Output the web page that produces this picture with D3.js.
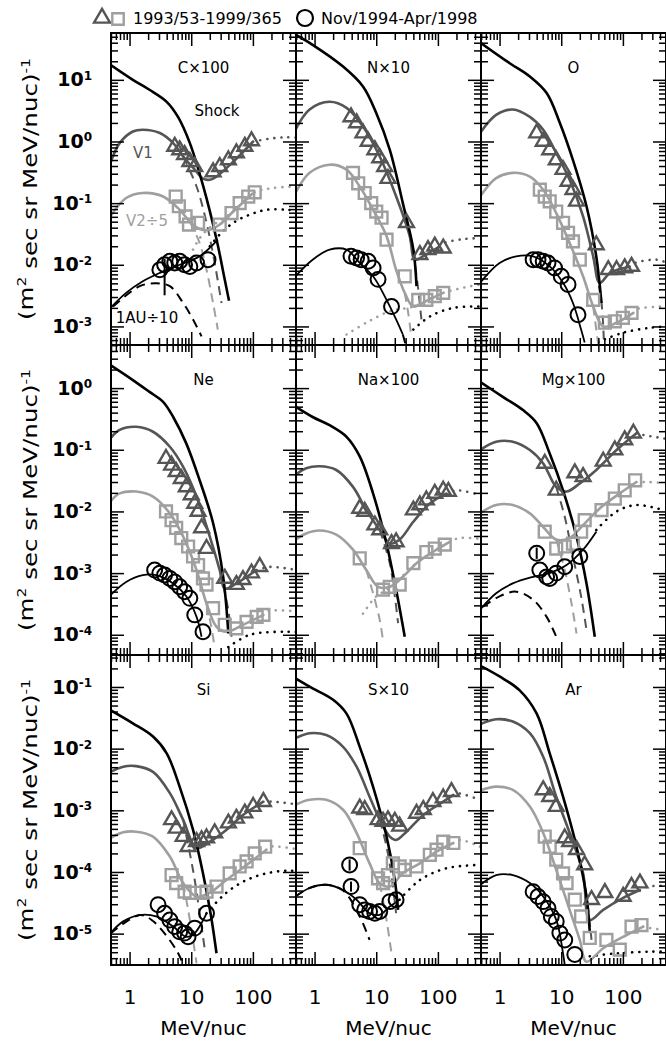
<!DOCTYPE html>
<html>
<head>
<meta charset="utf-8">
<script src="https://cdn.jsdelivr.net/npm/d3@7"></script>
<style>
  body { margin: 0; background: #fff; }
  svg { display: block; font-family: "DejaVu Sans", sans-serif; }
</style>
</head>
<body>
<svg id="chart" width="666" height="1044"></svg>
<script>
// panel order: row by row, left to right
const panels = ["C×100", "N×10", "O", "Ne", "Na×100", "Mg×100", "Si", "S×10", "Ar"];
const legendLabels = ["1993/53-1999/365", "Nov/1994-Apr/1998"];
const curveLabels = ["Shock", "V1", "V2÷5", "1AU÷10"];
const xDomain = [0.5, 500];
const xLabels = [1, 10, 100];
const yDomains = [[5.0e-4, 57.5], [4.7e-5, 5.0], [3.1e-6, 0.33]];
const yLabels = [[10, 1, 0.1, 0.01, 0.001], [1, 0.1, 0.01, 0.001, 1e-4], [0.1, 0.01, 0.001, 1e-4, 1e-5]];

// [MeV/nuc, flux] per panel
const shockCurves = [
  [[0.49,17.5],[1.13,10],[2.1,6.9],[4.0,4.4],[6.1,2.5],[9.5,0.94],[15.6,0.19],[25.7,0.026],[35,0.0057],[41,0.0026]],
  [[0.49,54],[0.93,37],[2.9,16.4],[6.1,7.8],[10,2.9],[16.6,0.73],[27,0.10],[40,0.0176],[45,0.0045]],
  [[0.49,40],[1.46,18.6],[3.1,11.3],[5.8,6.1],[9.5,2.0],[15.5,0.50],[25.7,0.089],[37,0.0137],[45,0.0024]],
  [[0.49,2.36],[1.13,1.35],[2.1,0.87],[3.5,0.60],[5.1,0.34],[8.3,0.127],[13.7,0.032],[22.6,0.0065],[33,8.7e-4],[40,1.05e-4]],
  [[0.49,0.50],[0.93,0.34],[1.75,0.25],[3.3,0.162],[5.4,0.078],[8.9,0.0195],[14.7,0.003],[21,5.4e-4],[29,9.3e-5]],
  [[0.49,1.25],[1.13,0.72],[2.4,0.44],[4.0,0.27],[6.5,0.087],[10.7,0.022],[17.7,0.0039],[25.7,6.8e-4],[35,9.3e-5]],
  [[0.49,0.042],[1.13,0.0257],[2.4,0.0157],[4.0,0.0084],[6.5,0.0024],[10.7,4.8e-4],[15.5,9.5e-5],[21,1.9e-5],[25.7,4.8e-6]],
  [[0.49,0.138],[0.93,0.095],[2.0,0.062],[3.3,0.037],[5.4,0.0107],[8.9,0.0024],[14.7,3.75e-4],[20,7.4e-5],[22.6,2.43e-5]],
  [[0.49,0.22],[1.0,0.148],[2.1,0.089],[4.0,0.037],[6.5,0.0084],[10.7,0.00166],[17.7,2.57e-4],[25.7,4.0e-5],[29,1.07e-5]]
];
const v1Curves = [
  [[0.49,0.45],[0.69,0.94],[1.13,1.45],[1.64,1.55],[3.1,1.37],[5.1,0.94],[7.4,0.57],[11.4,0.35],[15.5,0.25],[20,0.24],[25.7,0.27],[48,0.47],[101,1.0]],
  [[0.49,1.55],[0.83,3.3],[1.75,4.4],[3.3,3.5],[6.1,1.75],[11.4,0.57],[21,0.129],[35,0.029],[42,0.0121],[58,0.0138],[107,0.020]],
  [[0.49,1.4],[0.88,2.7],[1.64,3.3],[3.1,2.5],[5.1,1.55],[8.3,0.65],[13.7,0.24],[22.6,0.061],[33,0.0137],[42,0.0051],[62,0.0074],[129,0.0093]],
  [[0.49,0.153],[0.69,0.21],[1.28,0.236],[2.4,0.196],[4.5,0.112],[7.4,0.053],[12.2,0.0174],[20,0.0039],[29,0.00112],[35,5.6e-4],[54,6.8e-4],[115,0.00112]],
  [[0.49,0.039],[0.73,0.050],[1.2,0.054],[2.25,0.047],[4.2,0.025],[6.9,0.0105],[11.4,0.005],[16.6,0.003],[24,0.0035],[40,0.0068],[74,0.0135],[138,0.0195]],
  [[0.49,0.1],[0.88,0.135],[1.64,0.135],[3.1,0.099],[5.1,0.060],[8.3,0.025],[12.2,0.021],[20,0.0285],[37,0.047],[79,0.099],[166,0.185]],
  [[0.49,0.0042],[0.79,0.0051],[1.28,0.0052],[2.4,0.0042],[4.5,0.0019],[7.4,7.0e-4],[12.2,2.45e-4],[20,3.1e-4],[37,4.8e-4],[69,8.4e-4],[148,0.00138]],
  [[0.49,0.0148],[0.83,0.0178],[1.55,0.0166],[2.9,0.0107],[4.8,0.0051],[7.8,0.00166],[11.4,7.0e-4],[16.6,3.75e-4],[21,3.3e-4],[31,4.5e-4],[58,8.4e-4],[122,0.00138],[178,0.00178]],
  [[0.49,0.025],[0.88,0.030],[1.64,0.0275],[3.1,0.0178],[5.1,0.0074],[8.3,0.00166],[13.7,4.3e-4],[22.6,9.5e-5],[29,1.67e-5],[48,2.43e-5],[101,3.8e-5],[189,5.1e-5]]
];
const v1DashCurves = [
  [[7.4,0.57],[12.2,0.186],[17.7,0.048],[24,0.0107],[31,0.0024]],
  [[35,0.029],[42,0.0107],[48,0.004],[54,0.0013]],
  [[33,0.0137],[45,0.0024],[49,6.2e-4]],
  [[29,0.00112],[40,2.5e-4],[45,9.3e-5]],
  [[11.4,0.005],[16.6,0.00145],[20,4.2e-4],[22.6,1.55e-4]],
  [[8.3,0.025],[11.4,0.0082],[15.5,0.00186],[21,4.2e-4],[25.7,1.2e-4]],
  [[7.4,7.0e-4],[9.5,2.0e-4],[11.4,7.4e-5],[13.7,2.14e-5],[16.6,5.5e-6]],
  [[11.4,7.0e-4],[14.7,2.57e-4],[17.7,8.5e-5],[21,2.14e-5]],
  [[22.6,9.5e-5],[27,2.75e-5],[31,7.9e-6]]
];
const v1DotCurves = [
  [[101,1.0],[200,1.12],[355,1.17],[575,1.15]],
  [[107,0.020],[122,0.0224],[250,0.026],[480,0.027]],
  [[129,0.0093],[158,0.0107],[355,0.0121],[520,0.0107]],
  [[115,0.00112],[190,0.00126],[520,0.00112]],
  [[138,0.0195],[200,0.022],[480,0.0185]],
  [[166,0.185],[214,0.174],[520,0.150]],
  [[148,0.00138],[214,0.00138],[575,0.00123]],
  [[178,0.00178],[200,0.0019],[480,0.00148]],
  [[189,5.1e-5],[260,5.8e-5],[520,6.0e-5]]
];
const v2Curves = [
  [[0.49,0.061],[0.88,0.121],[1.64,0.146],[3.5,0.128],[6.5,0.078],[9.5,0.050],[13.7,0.038],[20,0.037],[29,0.045],[48,0.073],[101,0.146]],
  [[0.49,0.146],[0.83,0.31],[1.75,0.42],[3.3,0.35],[5.4,0.186],[8.9,0.078],[14.7,0.029],[21,0.0083],[29,0.0035],[40,0.0021],[65,0.0026],[122,0.0035]],
  [[0.49,0.13],[0.88,0.255],[1.64,0.31],[3.1,0.27],[5.1,0.165],[8.3,0.069],[13.7,0.0225],[22.6,0.0065],[33,0.0021],[48,0.001],[79,0.00115],[148,0.00166]],
  [[0.49,0.0145],[0.69,0.0196],[1.28,0.021],[2.4,0.0174],[4.5,0.0093],[7.4,0.0039],[12.2,0.00112],[17.7,3.2e-4],[25.7,1.35e-4],[37,1.12e-4],[69,1.45e-4],[148,2.1e-4]],
  [[0.49,0.0035],[0.73,0.0044],[1.2,0.0049],[2.25,0.0042],[4.2,0.0024],[6.9,0.00112],[10.7,6.0e-4],[16.6,6.0e-4],[27,8.7e-4],[45,0.00145],[83,0.0022],[155,0.0032]],
  [[0.49,0.0095],[0.88,0.0127],[1.64,0.0127],[3.1,0.0093],[5.1,0.0056],[8.3,0.0035],[13.7,0.0037],[22.6,0.006],[42,0.0112],[89,0.0196],[166,0.030]],
  [[0.49,3.55e-4],[0.79,4.4e-4],[1.28,4.5e-4],[2.4,3.75e-4],[4.5,1.78e-4],[7.4,6.6e-5],[12.2,4.0e-5],[20,4.6e-5],[37,7.4e-5],[79,1.3e-4],[166,2.3e-4]],
  [[0.49,0.00123],[0.83,0.00148],[1.55,0.00148],[2.9,0.00102],[4.8,4.3e-4],[7.8,1.38e-4],[11.4,6.6e-5],[16.6,5.8e-5],[27,9.5e-5],[51,1.38e-4],[95,2.14e-4],[178,2.95e-4]],
  [[0.49,0.0021],[0.88,0.00242],[1.64,0.00214],[3.1,0.00115],[5.1,4.3e-4],[8.3,1.08e-4],[13.7,2.43e-5],[20,7.9e-6],[25.7,3.5e-6],[48,5.8e-6],[115,9.5e-6],[214,1.3e-5]]
];
const v2DashCurves = [
  [[9.5,0.050],[13.7,0.0225],[17.7,0.0083],[22.6,0.0024],[27,8.9e-4]],
  [[29,0.0035],[33,0.00166],[37,6.9e-4]],
  [[33,0.0021],[37,8.9e-4],[40,5.0e-4]],
  [[17.7,3.2e-4],[21,1.4e-4],[24,6.3e-5]],
  [[6.9,0.00112],[8.9,4.7e-4],[11.4,1.74e-4],[12.9,8.0e-5]],
  [[8.3,0.0035],[11.4,0.00112],[14.7,3.2e-4],[17.7,1.05e-4]],
  [[7.4,6.6e-5],[8.9,2.45e-5],[10.7,7.9e-6],[12.2,3.3e-6]],
  [[11.4,6.6e-5],[14.7,1.66e-5],[17.7,4.8e-6]],
  []
];
const v2DotCurves = [
  [[10.7,0.0176],[13.7,0.027],[20,0.040],[48,0.073],[101,0.146],[214,0.176],[575,0.186]],
  [[3.3,7.4e-4],[6.9,0.00115],[16.6,0.00176],[40,0.0021],[122,0.0035],[480,0.0048]],
  [[148,0.00166],[166,0.0019],[457,0.0021]],
  [[148,2.1e-4],[166,2.4e-4],[520,2.4e-4]],
  [[6.1,2.2e-4],[10,4.2e-4],[16,5.6e-4],[45,0.00145],[155,0.0032],[220,0.0037],[480,0.0036]],
  [[166,0.030],[245,0.030],[457,0.029]],
  [[166,2.3e-4],[190,2.57e-4],[575,2.3e-4]],
  [[178,2.95e-4],[229,3.3e-4],[480,2.57e-4]],
  [[214,1.3e-5],[275,1.23e-5],[457,1.15e-5]]
];
const auCurves = [
  [[0.49,0.0020],[0.88,0.0035],[1.64,0.0054],[3.1,0.0074],[6.5,0.010],[13.7,0.0137],[27,0.0255]],
  [[0.49,0.0065],[0.93,0.0121],[1.75,0.0176],[3.3,0.0176],[5.4,0.0107],[8.9,0.0065],[14.7,0.0027],[21,0.0013],[27,7.4e-4]],
  [[0.49,0.0052],[1.0,0.0107],[1.86,0.0137],[3.5,0.0137],[6.5,0.0094],[10.7,0.0051],[15.5,0.0024],[21,8.9e-4],[24,5.5e-4]],
  [[0.49,4.4e-4],[0.88,7.2e-4],[1.64,9.3e-4],[2.7,9.3e-4],[5.1,6.8e-4],[8.3,4.2e-4],[12.2,1.95e-4],[14.7,9.3e-5]],
  [],
  [[0.49,2.6e-4],[0.88,4.7e-4],[1.64,6.8e-4],[3.5,8.7e-4],[6.5,0.001],[12.2,0.00135],[22.6,0.0024],[37,0.0047]],
  [[0.49,1.02e-5],[0.79,1.58e-5],[1.46,2.0e-5],[2.7,1.9e-5],[5.1,1.3e-5],[8.3,8.9e-6],[11.4,1.02e-5],[17.7,2.14e-5]],
  [[0.49,4.0e-5],[0.83,5.5e-5],[1.55,6.2e-5],[2.9,5.1e-5],[4.8,3.55e-5],[7.8,2.14e-5],[11.4,2.02e-5],[16.6,2.75e-5],[24,3.55e-5]],
  [[0.49,6.2e-5],[0.88,8.9e-5],[1.64,8.9e-5],[3.1,6.6e-5],[5.1,4.0e-5],[8.3,1.67e-5],[10.7,4.8e-6],[11.7,2.5e-6]]
];
const auDashCurves = [
  [[0.54,0.0021],[1.46,0.0045],[2.7,0.005],[4.5,0.0045],[7.4,0.0024],[10.7,0.0013],[14.7,6.9e-4]],
  [[27,7.4e-4],[31,4.5e-4]],
  [],
  [],
  [],
  [[0.54,2.85e-4],[1.0,4.2e-4],[1.86,5.0e-4],[3.5,3.7e-4],[5.8,1.95e-4],[8.3,9.3e-5]],
  [[0.49,1.0e-5],[1.46,2.0e-5],[2.4,1.6e-5],[5.7,5.5e-6],[7.1,3.5e-6]],
  [[0.49,4.0e-5],[0.83,5.5e-5],[1.55,6.2e-5],[2.9,5.0e-5],[5.4,1.9e-5],[7.8,7.9e-6]],
  []
];
const auDotCurves = [
  [[20,0.020],[29,0.031],[48,0.048],[89,0.065],[166,0.078],[355,0.078],[575,0.074]],
  [[40,8.9e-4],[74,0.00145],[178,0.002],[480,0.0021]],
  [[40,5.6e-4],[100,7.9e-4],[275,9.5e-4],[520,0.001]],
  [[40,6.3e-5],[89,1.0e-4],[355,1.12e-4],[575,1.1e-4]],
  [],
  [[37,0.005],[79,0.010],[166,0.0127],[457,0.0105]],
  [[17.7,2.14e-5],[37,4.6e-5],[79,7.4e-5],[166,9.5e-5],[355,1.05e-4],[575,1.02e-4]],
  [[24,3.55e-5],[51,7.4e-5],[138,1.15e-4],[480,1.3e-4]],
  [[29,4.3e-6],[79,4.8e-6],[275,5.1e-6],[520,5.1e-6]]
];
// triangles: Voyager 1, squares: Voyager 2 (/5), circles: 1 AU (/10)
const v1Points = [
  [[5.4,0.83],[6.5,0.73],[7.8,0.61],[9.5,0.47],[11.4,0.39],[22.6,0.32],[29,0.39],[40,0.50],[54,0.65],[74,0.83],[95,1.02]],
  [[3.9,2.5],[4.8,2.0],[6.1,1.37],[7.4,1.0],[9.5,0.73],[11.4,0.54],[13.7,0.39],[15.5,0.25],[31,0.048],[51,0.0146],[69,0.0176],[89,0.020],[122,0.0186]],
  [[4.0,1.37],[5.1,1.0],[6.5,0.73],[8.3,0.50],[10.7,0.35],[12.9,0.225],[15.5,0.165],[17.7,0.107],[37,0.021],[58,0.0083],[79,0.0083],[107,0.0089],[138,0.0094]],
  [[3.9,0.072],[4.8,0.056],[5.7,0.044],[6.9,0.034],[8.3,0.025],[10,0.0185],[11.4,0.0135],[12.9,0.010],[14.7,0.0054],[17.7,0.0025],[35,8.2e-4],[54,6.5e-4],[69,7.8e-4],[95,0.001],[129,0.00127]],
  [[5.4,0.0112],[6.5,0.010],[9.5,0.006],[11.4,0.005],[17.7,0.003],[21,0.0032],[40,0.0105],[51,0.0127],[65,0.0153],[89,0.0196],[122,0.022],[148,0.021]],
  [[5.4,0.060],[8.3,0.022],[16.6,0.042],[22.6,0.0366],[48,0.065],[74,0.099],[107,0.144],[148,0.185]],
  [[4.8,7.0e-4],[5.7,5.1e-4],[7.4,3.75e-4],[8.9,2.57e-4],[12.2,3.1e-4],[14.7,3.3e-4],[17.7,3.55e-4],[24,4.3e-4],[40,6.2e-4],[54,7.4e-4],[74,9.0e-4],[101,0.00115],[148,0.00138]],
  [[5.4,0.00108],[6.5,0.00102],[10.7,7.0e-4],[12.9,6.6e-4],[15.5,7.0e-4],[20,6.6e-4],[24,5.5e-4],[45,8.9e-4],[58,0.00102],[83,0.00138],[122,0.00158],[166,0.002]],
  [[5.1,0.00214],[6.5,0.00166],[8.3,0.00115],[11.4,3.55e-4],[13.7,3.1e-4],[17.7,2.3e-4],[24,1.3e-4],[31,3.55e-5],[51,4.6e-5],[101,4.0e-5],[138,5.8e-5],[189,6.6e-5]]
];
const v2Points = [
  [[5.6,0.128],[6.3,0.089],[8.1,0.061],[9.2,0.045],[12.9,0.048],[29,0.045],[45,0.069],[61,0.10],[84,0.128],[107,0.15]],
  [[4.2,0.31],[5.1,0.21],[6.5,0.146],[8.3,0.10],[10,0.073],[12.2,0.058],[14.7,0.0255],[29,0.0065],[48,0.0027],[65,0.0027],[89,0.0031],[122,0.0035]],
  [[4.5,0.165],[5.4,0.128],[6.5,0.107],[8.3,0.073],[10.7,0.048],[12.9,0.033],[15.5,0.024],[20,0.0121],[33,0.0027],[51,0.00115],[74,0.00121],[100,0.00138],[138,0.00166]],
  [[3.9,0.010],[4.8,0.0072],[5.7,0.0054],[6.9,0.0037],[8.9,0.0027],[10.7,0.00186],[12.9,0.00135],[15.5,8.2e-4],[17.7,6.5e-4],[22.6,2.7e-4],[35,1.45e-4],[54,1.27e-4],[79,1.62e-4],[115,1.95e-4],[148,2.1e-4]],
  [[5.4,0.00174],[12.9,5.4e-4],[16.6,6.0e-4],[24,6.5e-4],[40,0.00145],[65,0.0022],[89,0.0025],[129,0.0029]],
  [[5.4,0.0047],[8.3,0.0025],[11.4,0.0027],[15.5,0.003],[21,0.0047],[24,0.0072],[45,0.0105],[74,0.0162],[107,0.022],[158,0.032]],
  [[4.8,8.9e-5],[5.7,6.6e-5],[7.8,4.8e-5],[9.5,4.6e-5],[14.7,4.6e-5],[17.7,4.8e-5],[25.7,5.8e-5],[42,9.5e-5],[61,1.23e-4],[79,1.48e-4],[107,2.0e-4],[158,2.57e-4]],
  [[5.4,2.43e-4],[10.7,7.9e-5],[12.9,6.6e-5],[15.5,8.9e-5],[18.6,1.38e-4],[24,1.23e-4],[29,1.08e-4],[45,1.23e-4],[74,1.9e-4],[95,2.3e-4],[122,3.1e-4],[178,2.95e-4]],
  [[5.4,3.75e-4],[6.5,2.57e-4],[8.3,1.58e-4],[10.7,9.5e-5],[12.2,6.6e-5],[16.6,3.55e-5],[21,1.9e-5],[29,8.5e-6],[54,7.9e-6],[89,5.5e-6],[138,1.3e-5],[200,1.38e-5]]
];
const auPoints = [
  [[3.1,0.0083],[3.7,0.010],[4.5,0.0114],[5.4,0.0107],[6.5,0.0114],[7.8,0.010],[9.5,0.0094],[12.2,0.0107],[18.7,0.0121]],
  [[3.9,0.0138],[4.8,0.0129],[5.7,0.0121],[7.4,0.0114],[8.9,0.0089],[10.7,0.0058],[17.7,0.0021]],
  [[3.5,0.0121],[4.2,0.0121],[5.1,0.0114],[6.1,0.0107],[7.8,0.0089],[10,0.0065],[12.9,0.0048],[18.7,0.00155]],
  [[2.55,0.00112],[3.1,0.001],[3.7,9.3e-4],[4.5,8.2e-4],[5.4,7.2e-4],[6.5,6.0e-4],[7.8,5.0e-4],[9.5,3.9e-4],[11.4,2.1e-4],[15.5,1.12e-4]],
  [],
  [[4.0,0.0021],[4.5,0.00112],[5.8,8.7e-4],[6.5,8.2e-4],[8.3,0.001],[11.4,0.00127],[20,0.00186]],
  [[2.9,2.95e-5],[3.7,2.14e-5],[4.5,1.66e-5],[5.4,1.3e-5],[6.5,1.07e-5],[7.8,1.02e-5],[8.9,8.9e-6],[11.4,1.23e-5],[17.7,2.14e-5]],
  [[3.7,1.3e-4],[3.9,5.8e-5],[5.4,2.95e-5],[6.5,2.43e-5],[7.8,2.29e-5],[9.5,2.14e-5],[11.4,2.29e-5],[16.6,3.3e-5],[21,3.55e-5]],
  [[3.5,4.8e-5],[4.2,4.0e-5],[5.1,3.3e-5],[6.1,2.57e-5],[6.9,1.9e-5],[8.3,1.58e-5],[9.5,1.02e-5],[11.4,7.9e-6],[16.6,4.6e-6]]
];
// vertical error bars on some 1 AU points: [panel, MeV/nuc, low, high]
const auErrors = [
  [0, 3.7, 0.0032, 0.0125],
  [5, 4.0, 0.0017, 0.0026],
  [7, 3.7, 1.05e-4, 1.6e-4],
  [7, 3.9, 4.8e-5, 7.0e-5]
];

const DARK = "#555555", LIGHT = "#9f9f9f";
const colLeft = [111, 296, 481], colW = 185;
const rowBounds = [[33, 345], [345, 655], [655, 965]];

const svg = d3.select("#chart");
const defs = svg.append("defs");
const isMajor = v => Math.abs(Math.log10(v) - Math.round(Math.log10(v))) < 1e-9;

panels.forEach((name, i) => {
  const col = i % 3, row = Math.floor(i / 3);
  const x0 = colLeft[col], x1 = x0 + colW;
  const [yt, yb] = rowBounds[row];
  const x = d3.scaleLog().domain(xDomain).range([x0, x1]);
  const y = d3.scaleLog().domain(yDomains[row]).range([yb, yt]);

  defs.append("clipPath").attr("id", "clip" + i)
    .append("rect").attr("x", x0).attr("y", yt).attr("width", x1 - x0).attr("height", yb - yt);

  const g = svg.append("g");
  const plot = g.append("g").attr("clip-path", `url(#clip${i})`);
  const line = d3.line().x(d => x(d[0])).y(d => y(d[1])).curve(d3.curveCatmullRom.alpha(0.5));

  const draw = (data, color, width, style) => {
    if (!data.length) return;
    const p = plot.append("path").datum(data).attr("d", line)
      .attr("fill", "none").attr("stroke", color).attr("stroke-width", width);
    if (style === "dash") p.attr("stroke-dasharray", "9,6");
    if (style === "dot") p.attr("stroke-dasharray", "0.1,7").attr("stroke-linecap", "round");
  };

  draw(auDotCurves[i], "#000", 2.6, "dot");
  draw(v2DotCurves[i], LIGHT, 2.6, "dot");
  draw(v1DotCurves[i], DARK, 2.6, "dot");
  draw(auDashCurves[i], "#000", 2, "dash");
  draw(v2DashCurves[i], LIGHT, 2, "dash");
  draw(v1DashCurves[i], DARK, 2, "dash");
  draw(v2Curves[i], LIGHT, 2.6);
  draw(v1Curves[i], DARK, 2.6);
  draw(auCurves[i], "#000", 1.8);
  draw(shockCurves[i], "#000", 2.6);

  const sym = (type, size) => d3.symbol().type(type).size(size)();
  plot.selectAll(null).data(v2Points[i]).join("path")
    .attr("d", sym(d3.symbolSquare, 140))
    .attr("transform", d => `translate(${x(d[0])},${y(d[1])})`)
    .attr("fill", "none").attr("stroke", LIGHT).attr("stroke-width", 2.4);
  plot.selectAll(null).data(v1Points[i]).join("path")
    .attr("d", sym(d3.symbolTriangle, 95))
    .attr("transform", d => `translate(${x(d[0])},${y(d[1])})`)
    .attr("fill", "none").attr("stroke", DARK).attr("stroke-width", 2.4).attr("stroke-linejoin", "miter");
  plot.selectAll(null).data(auPoints[i]).join("path")
    .attr("d", sym(d3.symbolCircle, 175))
    .attr("transform", d => `translate(${x(d[0])},${y(d[1])})`)
    .attr("fill", "none").attr("stroke", "#000").attr("stroke-width", 2);
  plot.selectAll(null).data(auErrors.filter(e => e[0] === i)).join("line")
    .attr("x1", d => x(d[1])).attr("x2", d => x(d[1]))
    .attr("y1", d => y(d[2])).attr("y2", d => y(d[3]))
    .attr("stroke", "#000").attr("stroke-width", 2);

  // ticks on all four sides, pointing inward
  const xMajor = x.ticks().filter(isMajor), xMinor = x.ticks().filter(v => !isMajor(v));
  const yMajor = y.ticks().filter(isMajor), yMinor = y.ticks().filter(v => !isMajor(v));
  const axes = [
    [d3.axisBottom, x, `translate(0,${yb})`, xMajor, xMinor],
    [d3.axisTop, x, `translate(0,${yt})`, xMajor, xMinor],
    [d3.axisLeft, y, `translate(${x0},0)`, yMajor, yMinor],
    [d3.axisRight, y, `translate(${x1},0)`, yMajor, yMinor]
  ];
  axes.forEach(([fn, sc, tr, major, minor]) => {
    [[major, -13], [minor, -7]].forEach(([vals, len]) => {
      g.append("g").attr("transform", tr)
        .call(fn(sc).tickValues(vals).tickSize(len).tickSizeOuter(0).tickFormat(""))
        .call(a => a.select(".domain").remove())
        .call(a => a.selectAll(".tick line").attr("stroke", "#000").attr("stroke-width", 1.5));
    });
  });
  g.append("rect").attr("x", x0).attr("y", yt).attr("width", x1 - x0).attr("height", yb - yt)
    .attr("fill", "none").attr("stroke", "#000").attr("stroke-width", 2);

  // panel title
  g.append("text").attr("x", (x0 + x1) / 2).attr("y", yt + 40)
    .attr("text-anchor", "middle").attr("font-size", 15).text(name);

  // y tick labels on left column
  if (col === 0) {
    g.append("g").attr("transform", `translate(${x0},0)`)
      .call(d3.axisLeft(y).tickValues(yLabels[row]).tickSize(0).tickPadding(19).tickFormat(""))
      .call(a => a.select(".domain").remove())
      .call(a => a.attr("font-family", null).attr("font-size", 19).attr("font-weight", "bold"))
      .call(a => a.selectAll(".tick text").attr("fill", "#000").each(function (d) {
        const t = d3.select(this);
        t.append("tspan").text("10");
        t.append("tspan").attr("font-size", 12).attr("dy", "-0.55em").text(String(Math.round(Math.log10(d))));
      }));
    const cy = (yt + yb) / 2;
    const title = g.append("text").attr("transform", `translate(33,${cy}) rotate(-90)`)
      .attr("text-anchor", "middle").attr("font-size", 19)
      .attr("textLength", 262).attr("lengthAdjust", "spacingAndGlyphs");
    title.append("tspan").text("(m");
    title.append("tspan").attr("font-size", 12).attr("dy", "-0.6em").text("2");
    title.append("tspan").attr("dy", "0.6em").text(" sec sr MeV/nuc)");
    title.append("tspan").attr("font-size", 12).attr("dy", "-0.6em").text("-1");
  }

  // x tick labels on bottom row
  if (row === 2) {
    g.append("g").attr("transform", `translate(0,${yb})`)
      .call(d3.axisBottom(x).tickValues(xLabels).tickSize(0).tickPadding(25).tickFormat(d3.format("d")))
      .call(a => a.select(".domain").remove())
      .call(a => a.attr("font-family", null).attr("font-size", 20))
      .call(a => a.selectAll(".tick text").attr("fill", "#000"));
    g.append("text").attr("x", (x0 + x1) / 2).attr("y", 1035)
      .attr("text-anchor", "middle").attr("font-size", 20).text("MeV/nuc");
  }

  // curve labels in first panel
  if (i === 0) {
    const lab = [[curveLabels[0], 217, 116, "#000"], [curveLabels[1], 143, 158, DARK],
                 [curveLabels[2], 147, 226, LIGHT], [curveLabels[3], 147, 323, "#000"]];
    lab.forEach(([t, lx, ly, c]) => g.append("text").attr("x", lx).attr("y", ly)
      .attr("text-anchor", "middle").attr("font-size", 15).attr("fill", c).text(t));
  }
});

// legend
const lg = svg.append("g");
lg.append("path").attr("d", d3.symbol().type(d3.symbolTriangle).size(110)())
  .attr("transform", "translate(102,18)").attr("fill", "none").attr("stroke", DARK).attr("stroke-width", 2.4);
lg.append("path").attr("d", d3.symbol().type(d3.symbolSquare).size(130)())
  .attr("transform", "translate(118,19)").attr("fill", "none").attr("stroke", LIGHT).attr("stroke-width", 2.4);
lg.append("text").attr("x", 133).attr("y", 24).attr("font-size", 16).text(legendLabels[0]);
lg.append("circle").attr("cx", 305).attr("cy", 18).attr("r", 8)
  .attr("fill", "none").attr("stroke", "#000").attr("stroke-width", 2.2);
lg.append("text").attr("x", 321).attr("y", 24).attr("font-size", 16).text(legendLabels[1]);
</script>
</body>
</html>
